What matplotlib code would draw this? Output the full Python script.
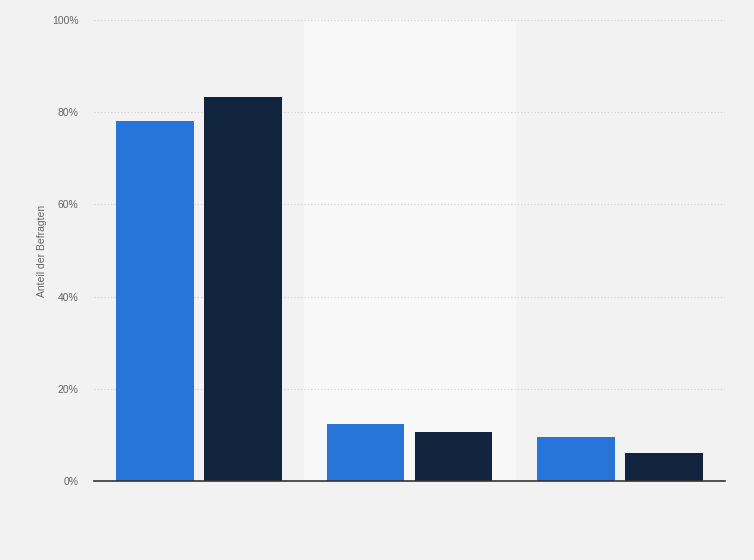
import matplotlib.pyplot as plt
import numpy as np

# Daten
kategorien = ["", "", ""]
serie_1 = [78, 12.3, 9.5]
serie_2 = [83.3, 10.6, 6.1]
y_ticks = [0, 20, 40, 60, 80, 100]

plt.rcParams["font.family"] = ["Liberation Sans", "DejaVu Sans"]

fig = plt.figure(figsize=(7.54, 5.60), dpi=100)
fig.patch.set_facecolor("#f2f2f2")
ax = fig.add_axes([94 / 754, 1 - 481 / 560, 631 / 754, 461 / 560])
ax.set_facecolor("#f2f2f2")

x = np.arange(len(kategorien))
breite = 0.37
abstand = 0.024

# mittlere Gruppe hell hinterlegt
ax.axvspan(0.5, 1.5, color="#f8f8f8", zorder=0)

ax.bar(x - breite / 2 - abstand, serie_1, breite, color="#2775d9", zorder=3)
ax.bar(x + breite / 2 + abstand, serie_2, breite, color="#10253d", zorder=3)

ax.set_xlim(-0.5, 2.5)
ax.set_ylim(0, 100)
ax.set_yticks(y_ticks)
ax.set_yticklabels([f"{t}%" for t in y_ticks])
ax.set_xticks([])
ax.yaxis.grid(True, linestyle=(0, (1, 2)), color="#d0d0d0", linewidth=0.8, zorder=1)

for s in ["top", "right", "left"]:
    ax.spines[s].set_visible(False)
ax.spines["bottom"].set_color("#333333")
ax.spines["bottom"].set_linewidth(1.2)
ax.spines["bottom"].set_zorder(4)

ax.tick_params(axis="y", length=0, pad=11, labelsize=7.5, labelcolor="#666666")
ax.set_ylabel("Anteil der Befragten", fontsize=7.5, color="#666666")
ax.yaxis.set_label_coords(-0.075, 0.5)

fig.savefig("out.png", dpi=100, facecolor=fig.get_facecolor())
